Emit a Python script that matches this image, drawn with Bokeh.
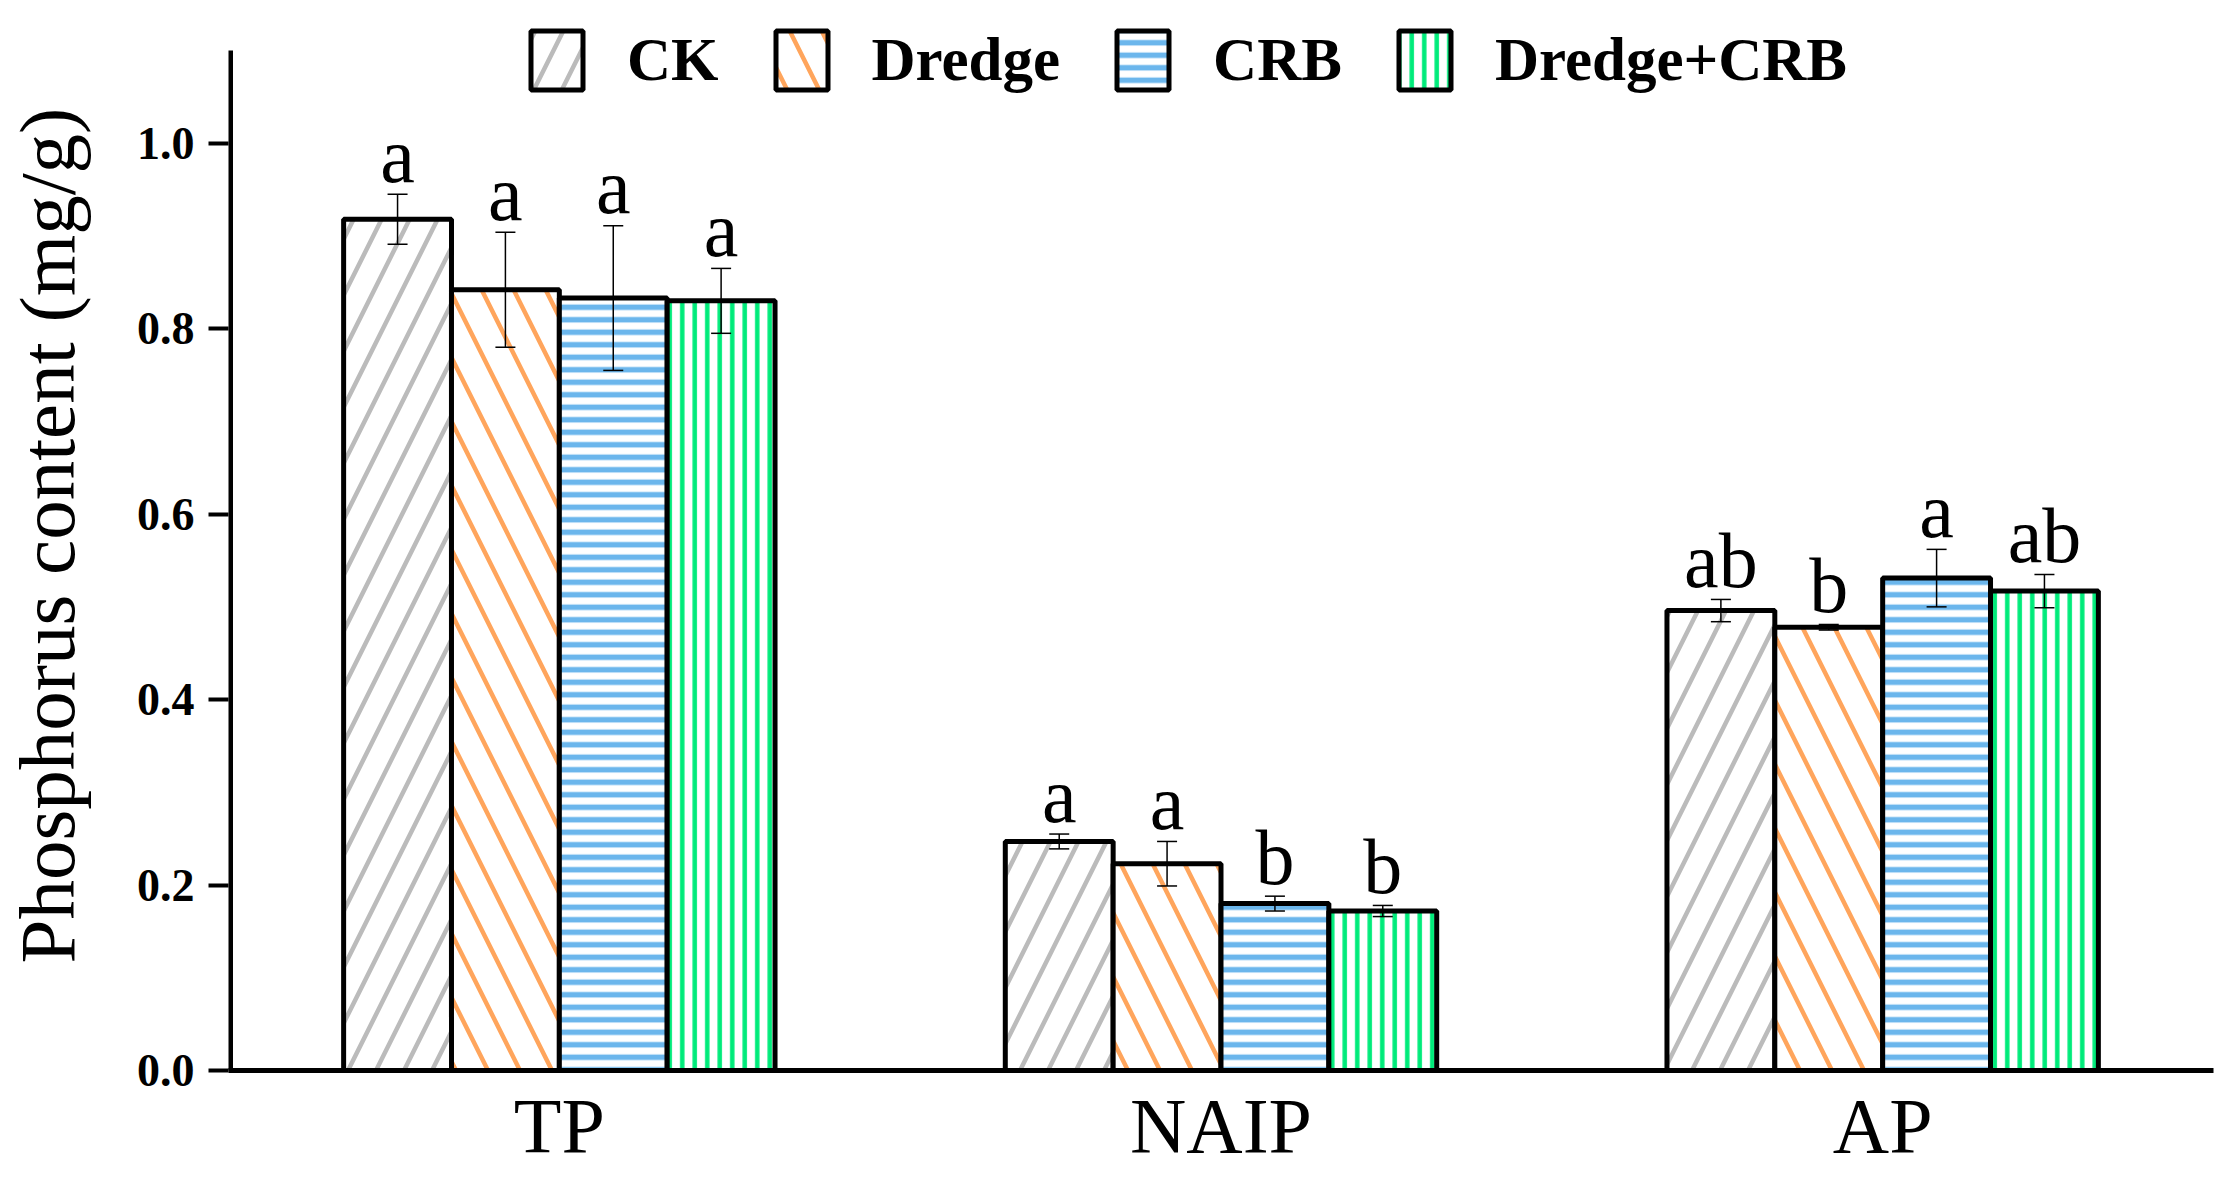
from bokeh.plotting import figure
from bokeh.models import (FactorRange, Range1d, FixedTicker, PrintfTickFormatter,
                          ColumnDataSource, Whisker, TeeHead, Legend, LegendItem)
from bokeh.transform import dodge
from bokeh.core.properties import value
from bokeh.embed import file_html
from bokeh.resources import INLINE

# ---- data ----
categories = ["TP", "NAIP", "AP"]
treatments = ["CK", "Dredge", "CRB", "Dredge+CRB"]

ck_mean = [0.918, 0.247, 0.496]
ck_err = [0.027, 0.008, 0.012]
ck_sig = ["a", "a", "ab"]

dredge_mean = [0.842, 0.223, 0.478]
dredge_err = [0.062, 0.024, 0.003]
dredge_sig = ["a", "a", "b"]

crb_mean = [0.833, 0.180, 0.531]
crb_err = [0.078, 0.008, 0.031]
crb_sig = ["a", "b", "a"]

dcrb_mean = [0.830, 0.172, 0.517]
dcrb_err = [0.035, 0.006, 0.018]
dcrb_sig = ["a", "b", "ab"]

y_ticks = [0.0, 0.2, 0.4, 0.6, 0.8, 1.0]
y_axis_top = 1.1

series = [
    (treatments[0], ck_mean, ck_err, ck_sig, "#BBBBBB", "right_diagonal_line", 56, 4.5),
    (treatments[1], dredge_mean, dredge_err, dredge_sig, "#FFA55C", "left_diagonal_line", 64, 4.5),
    (treatments[2], crb_mean, crb_err, crb_sig, "#6BB6EC", "horizontal_line", 12.5, 5.5),
    (treatments[3], dcrb_mean, dcrb_err, dcrb_sig, "#00EB7A", "vertical_line", 12.5, 4.5),
]

FONT_NAME = "Liberation Serif"
FONT = value(FONT_NAME)
bar_w = 0.163

W, H = 2220, 1172
frame_left, frame_right, frame_top, frame_bottom = 227, 2213, 0, 1070
px_per_unit = (frame_bottom - 50) / y_axis_top
y_end = (frame_bottom - frame_top) / px_per_unit

p = figure(x_range=FactorRange(*categories, range_padding=0),
           y_range=Range1d(0, y_end),
           width=W, height=H,
           output_backend="svg", toolbar_location=None,
           min_border_left=frame_left, min_border_right=W - frame_right,
           min_border_top=frame_top, min_border_bottom=H - frame_bottom)
p.outline_line_color = None
p.xgrid.grid_line_color = None
p.ygrid.grid_line_color = None
p.background_fill_color = "white"

items = []
for i, (name, mean, err, sig, color, pattern, scale, weight) in enumerate(series):
    off = (i - 1.5) * bar_w
    src = ColumnDataSource(dict(
        cat=categories,
        mean=mean,
        upper=[m + e for m, e in zip(mean, err)],
        lower=[m - e for m, e in zip(mean, err)],
        sig=sig,
    ))
    r = p.vbar(x=dodge("cat", off, range=p.x_range), top="mean", width=bar_w,
               bottom=0, source=src, fill_color="white", line_color="black",
               line_width=5, hatch_pattern=pattern, hatch_color=color,
               hatch_scale=scale, hatch_weight=weight)
    items.append(LegendItem(label=name, renderers=[r]))
    w = Whisker(base=dodge("cat", off, range=p.x_range), upper="upper", lower="lower",
                source=src, line_color="black", line_width=1.5, level="annotation",
                upper_head=TeeHead(size=20, line_width=1.5, line_color="black"),
                lower_head=TeeHead(size=20, line_width=1.5, line_color="black"))
    p.add_layout(w)
    p.text(x=dodge("cat", off, range=p.x_range), y="upper", text="sig", source=src,
           text_font=FONT, text_font_size="78px", text_align="center",
           text_baseline="alphabetic", y_offset=-39, text_color="black")

# y axis line only up to 1.1 (frame extends higher to make room for legend)
p.segment(x0=[0], y0=[0], x1=[0], y1=[y_axis_top], line_color="black", line_width=9)

legend = Legend(items=items, orientation="horizontal", location=(296, 973),
                glyph_width=65, glyph_height=74, label_standoff=38, spacing=50,
                padding=0, margin=0, border_line_color=None,
                background_fill_alpha=0,
                label_text_font=FONT_NAME, label_text_font_style="bold",
                label_text_font_size="61px", label_text_color="black")
p.add_layout(legend, "center")

# axes
p.yaxis.ticker = FixedTicker(ticks=y_ticks)
p.yaxis.formatter = PrintfTickFormatter(format="%.1f")
p.yaxis.axis_line_color = None
p.yaxis.major_tick_line_width = 4
p.yaxis.major_tick_line_color = "black"
p.yaxis.major_tick_out = 20
p.yaxis.major_tick_in = 0
p.yaxis.minor_tick_line_color = None
p.yaxis.major_label_text_font = FONT_NAME
p.yaxis.major_label_text_font_style = "bold"
p.yaxis.major_label_text_font_size = "46px"
p.yaxis.major_label_text_color = "black"
p.yaxis.major_label_standoff = 14
p.yaxis.axis_label = "Phosphorus content (mg/g)"
p.yaxis.axis_label_text_font = FONT_NAME
p.yaxis.axis_label_text_font_style = "normal"
p.yaxis.axis_label_text_font_size = "79px"
p.yaxis.axis_label_text_color = "black"
p.yaxis.axis_label_standoff = 43

p.xaxis.axis_line_width = 5
p.xaxis.axis_line_color = "black"
p.xaxis.major_tick_line_color = None
p.xaxis.minor_tick_line_color = None
p.xaxis.major_label_text_font = FONT_NAME
p.xaxis.major_label_text_font_size = "78px"
p.xaxis.major_label_text_color = "black"
p.xaxis.major_label_standoff = 5

open("out.html", "w").write(file_html(p, INLINE))
